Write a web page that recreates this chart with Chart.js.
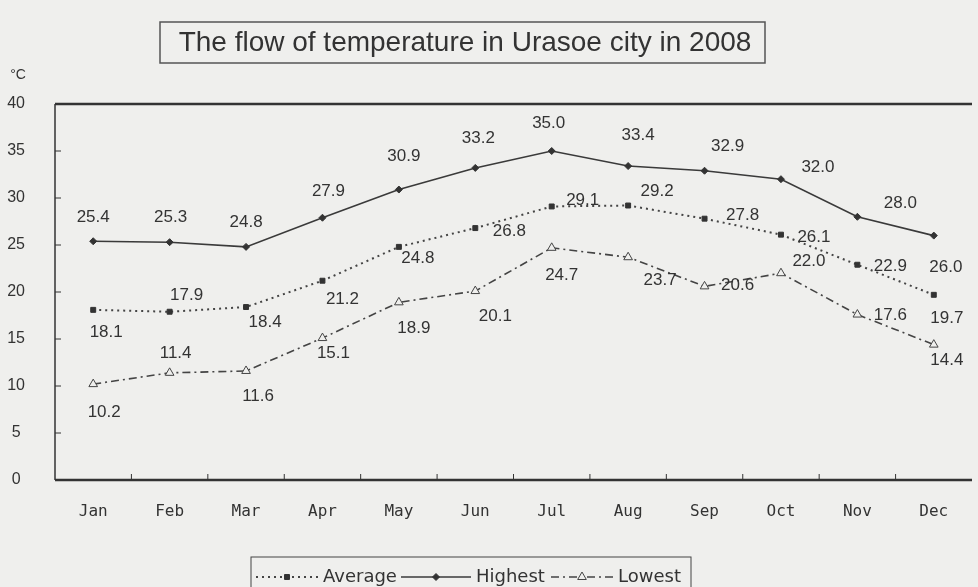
<!DOCTYPE html>
<html>
<head>
<meta charset="utf-8">
<script src="https://cdn.jsdelivr.net/npm/chart.js@4/dist/chart.umd.min.js"></script>
<style>
  html, body { margin: 0; padding: 0; background: #efefed; }
</style>
</head>
<body>
<canvas id="temperaturas" width="978" height="587"></canvas>
<script>
// datos
var months = ["Jan", "Feb", "Mar", "Apr", "May", "Jun", "Jul", "Aug", "Sep", "Oct", "Nov", "Dec"];
var average = [18.1, 17.9, 18.4, 21.2, 24.8, 26.8, 29.1, 29.2, 27.8, 26.1, 22.9, 19.7];
var highest = [25.4, 25.3, 24.8, 27.9, 30.9, 33.2, 35.0, 33.4, 32.9, 32.0, 28.0, 26.0];
var lowest = [10.2, 11.4, 11.6, 15.1, 18.9, 20.1, 24.7, 23.7, 20.6, 22.0, 17.6, 14.4];
var yTicks = [0, 5, 10, 15, 20, 25, 30, 35, 40];

var ink = "#333333";
var bg = "#efefed";

// donde va cada etiqueta respecto a su punto (dx, dy en px)
var labelOffsets = {
  Average: [[13, 22], [17, -16], [19, 15], [20, 19], [19, 11], [34, 3], [31, -6], [29, -14], [38, -3], [33, 3], [33, 2], [13, 23]],
  Highest: [[0, -24], [1, -25], [0, -25], [6, -26], [5, -33], [3, -30], [-3, -28], [10, -31], [23, -24], [37, -12], [43, -13], [12, 32]],
  Lowest: [[11, 28], [6, -20], [12, 25], [11, 15], [15, 26], [20, 25], [10, 27], [32, 23], [33, -1], [28, -12], [33, 1], [13, 16]]
};

// dibuja marco, ticks interiores, titulo, etiquetas y leyenda
var decoraciones = {
  id: "decoraciones",
  afterDatasetsDraw: function (chart) {
    var ctx = chart.ctx;
    var a = chart.chartArea;
    var xs = chart.scales.x;
    var ys = chart.scales.y;
    ctx.save();
    ctx.strokeStyle = ink;
    // marco
    ctx.lineWidth = 2.5;
    ctx.beginPath();
    ctx.moveTo(a.left, a.top); ctx.lineTo(a.right, a.top);
    ctx.moveTo(a.left, a.bottom); ctx.lineTo(a.right, a.bottom);
    ctx.stroke();
    ctx.lineWidth = 1.5;
    ctx.beginPath();
    ctx.moveTo(a.left, a.top); ctx.lineTo(a.left, a.bottom);
    ctx.stroke();
    // ticks hacia dentro
    ctx.lineWidth = 1;
    ctx.beginPath();
    for (var i = 1; i < yTicks.length - 1; i++) {
      var py = ys.getPixelForValue(yTicks[i]);
      ctx.moveTo(a.left, py); ctx.lineTo(a.left + 6, py);
    }
    for (var j = 1; j < months.length; j++) {
      var px = (xs.getPixelForValue(j - 1) + xs.getPixelForValue(j)) / 2;
      ctx.moveTo(px, a.bottom); ctx.lineTo(px, a.bottom - 6);
    }
    ctx.stroke();

    // unidad
    ctx.fillStyle = ink;
    ctx.font = "14px 'Liberation Sans'";
    ctx.textAlign = "center";
    ctx.textBaseline = "middle";
    ctx.fillText("\u00B0C", 18, 75);

    // titulo en caja
    ctx.lineWidth = 1.5;
    ctx.strokeStyle = "#555555";
    ctx.strokeRect(160, 22, 605, 41);
    ctx.font = "28px 'Liberation Sans'";
    ctx.fillStyle = ink;
    ctx.fillText("The flow of temperature in Urasoe city in 2008", 465, 43);

    // etiquetas de valores
    ctx.font = "17px 'Liberation Sans'";
    chart.data.datasets.forEach(function (ds, k) {
      var meta = chart.getDatasetMeta(k);
      var offs = labelOffsets[ds.label];
      meta.data.forEach(function (pt, n) {
        ctx.fillText(ds.data[n].toFixed(1), pt.x + offs[n][0], pt.y + offs[n][1]);
      });
    });

    // leyenda
    ctx.strokeStyle = "#444444";
    ctx.lineWidth = 1;
    ctx.strokeRect(251, 557, 440, 34);
    var ly = 577;
    var items = [[256, 318, "Average"], [401, 471, "Highest"], [551, 613, "Lowest"]];
    ctx.font = "18px 'DejaVu Sans'";
    ctx.textAlign = "left";
    chart.data.datasets.forEach(function (ds, k) {
      var it = items[k];
      ctx.save();
      ctx.strokeStyle = ds.borderColor;
      ctx.lineWidth = ds.borderWidth;
      ctx.setLineDash(ds.borderDash || []);
      ctx.beginPath();
      ctx.moveTo(it[0], ly); ctx.lineTo(it[1], ly);
      ctx.stroke();
      ctx.restore();
      ctx.save();
      ctx.fillStyle = ds.pointBackgroundColor;
      ctx.strokeStyle = ds.pointBorderColor;
      ctx.lineWidth = ds.pointBorderWidth;
      Chart.helpers.drawPoint(ctx, {
        pointStyle: ds.pointStyle,
        radius: ds.pointRadius,
        borderWidth: ds.pointBorderWidth,
        rotation: 0
      }, (it[0] + it[1]) / 2, ly);
      ctx.restore();
      ctx.fillStyle = ink;
      ctx.fillText(it[2], it[1] + 5, ly);
    });
    ctx.restore();
  }
};

var ctxTemp = document.getElementById("temperaturas").getContext("2d");
var grafTemp = new Chart(ctxTemp, {
  type: "line",
  data: {
    labels: months,
    datasets: [{
      label: "Average",
      data: average,
      borderColor: "#444444",
      borderWidth: 2,
      borderDash: [2, 4],
      pointStyle: "rect",
      pointRadius: 3.5,
      pointBorderWidth: 1,
      pointBackgroundColor: "#333333",
      pointBorderColor: "#333333"
    }, {
      label: "Highest",
      data: highest,
      borderColor: "#3a3a3a",
      borderWidth: 1.6,
      pointStyle: "rectRot",
      pointRadius: 3.5,
      pointBorderWidth: 1,
      pointBackgroundColor: "#333333",
      pointBorderColor: "#333333"
    }, {
      label: "Lowest",
      data: lowest,
      borderColor: "#444444",
      borderWidth: 1.6,
      borderDash: [8, 4, 2, 4],
      pointStyle: "triangle",
      pointRadius: 5,
      pointBorderWidth: 1,
      pointBackgroundColor: bg,
      pointBorderColor: "#444444"
    }]
  },
  options: {
    responsive: false,
    animation: false,
    devicePixelRatio: 1,
    layout: { padding: { left: 0, right: 0, top: 104, bottom: 57 } },
    plugins: {
      legend: { display: false },
      tooltip: { enabled: false }
    },
    scales: {
      x: {
        offset: true,
        grid: { display: false, drawTicks: false },
        border: { display: false },
        ticks: {
          padding: 22,
          color: ink,
          font: { family: "'DejaVu Sans Mono'", size: 16 }
        },
        afterFit: function (s) { s.height = 50; }
      },
      y: {
        min: 0,
        max: 40,
        grid: { display: false, drawTicks: false },
        border: { display: false },
        afterBuildTicks: function (s) {
          s.ticks = yTicks.map(function (v) { return { value: v }; });
        },
        ticks: {
          padding: 30,
          crossAlign: "center",
          color: ink,
          font: { family: "'Liberation Sans'", size: 16 }
        },
        afterFit: function (s) { s.width = 55; }
      }
    }
  },
  plugins: [decoraciones]
});
</script>
</body>
</html>
